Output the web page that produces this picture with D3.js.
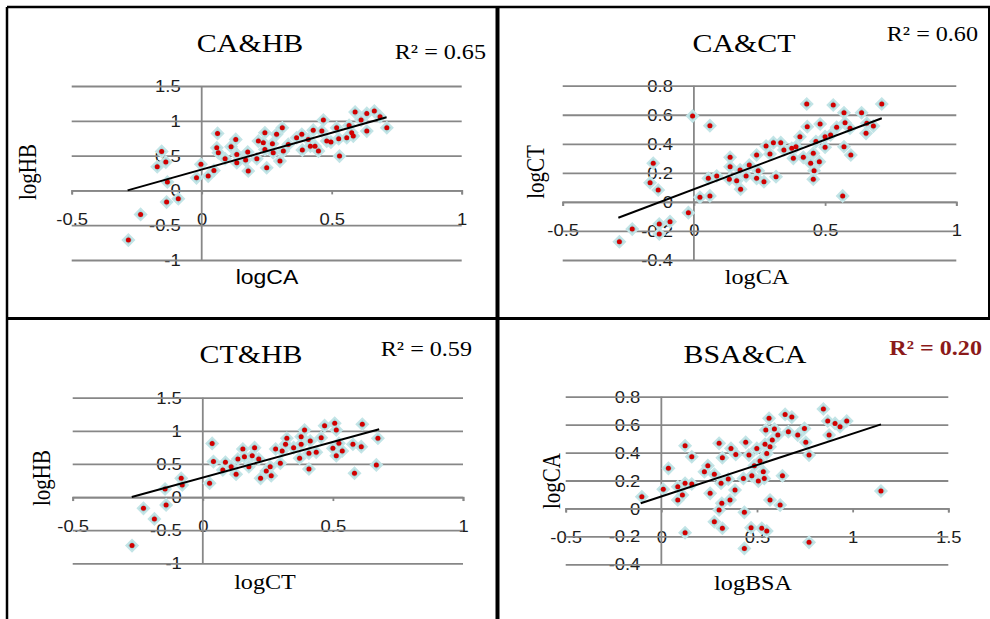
<!DOCTYPE html>
<html><head><meta charset="utf-8">
<script src="https://cdn.jsdelivr.net/npm/d3@7"></script>
<style>body{margin:0;background:#fff}svg{display:block}</style>
</head><body>
<script>
// ---------- data ----------
const caHB_x = [-0.282,-0.235,-0.171,-0.154,-0.138,-0.132,-0.135,-0.09,-0.003,-0.02,0.025,0.047,0.061,0.058,0.064,0.09,0.113,0.131,0.135,0.135,0.169,0.179,0.177,0.212,0.218,0.237,0.243,0.25,0.243,0.272,0.288,0.31,0.275,0.301,0.314,0.333,0.365,0.385,0.387,0.41,0.418,0.429,0.436,0.449,0.462,0.468,0.481,0.497,0.519,0.527,0.53,0.558,0.567,0.577,0.583,0.59,0.613,0.635,0.635,0.664,0.686,0.712];
const caHB_y = [-0.714,-0.345,0.34,0.56,0.407,0.12,-0.168,-0.12,0.374,0.18,0.206,0.287,0.819,0.613,0.541,0.455,0.628,0.733,0.517,0.397,0.436,0.278,0.55,0.455,0.708,0.685,0.589,0.326,0.829,0.671,0.805,0.9,0.541,0.421,0.565,0.661,0.757,0.805,0.579,0.733,0.636,0.866,0.636,0.565,0.852,1.01,0.708,0.694,0.9,0.743,0.493,0.757,0.934,0.829,0.78,1.125,1.01,1.106,0.852,1.14,1.059,0.9];

const caCT_x = [-0.284,-0.235,-0.167,-0.155,-0.136,-0.132,-0.132,-0.091,-0.021,-0.005,0.023,0.061,0.061,0.055,0.087,0.138,0.138,0.135,0.163,0.178,0.176,0.199,0.211,0.239,0.239,0.245,0.267,0.275,0.29,0.303,0.313,0.331,0.343,0.373,0.379,0.389,0.404,0.417,0.43,0.432,0.445,0.455,0.458,0.455,0.478,0.465,0.481,0.5,0.5,0.521,0.531,0.544,0.567,0.572,0.572,0.576,0.598,0.595,0.639,0.656,0.659,0.684,0.716];
const caCT_y = [-0.274,-0.187,0.132,0.266,0.082,-0.152,-0.221,-0.136,-0.074,0.591,0.032,0.525,0.041,0.162,0.178,0.307,0.242,0.156,0.146,0.087,0.22,0.178,0.254,0.162,0.323,0.215,0.139,0.385,0.33,0.408,0.174,0.408,0.357,0.369,0.3,0.38,0.449,0.307,0.674,0.518,0.266,0.335,0.215,0.156,0.277,0.415,0.536,0.376,0.449,0.461,0.667,0.514,0.041,0.614,0.38,0.545,0.323,0.507,0.614,0.472,0.541,0.522,0.674];

const ctHB_x = [-0.272,-0.228,-0.186,-0.141,-0.145,-0.083,-0.079,0.026,0.036,0.041,0.077,0.087,0.109,0.128,0.135,0.154,0.16,0.177,0.19,0.199,0.215,0.222,0.244,0.259,0.263,0.28,0.298,0.305,0.318,0.323,0.349,0.372,0.378,0.378,0.391,0.408,0.408,0.413,0.436,0.455,0.468,0.5,0.507,0.513,0.513,0.523,0.536,0.577,0.583,0.609,0.613,0.667,0.673];
const ctHB_y = [-0.733,-0.17,-0.33,-0.119,0.122,0.283,0.183,0.208,0.81,0.535,0.409,0.525,0.459,0.344,0.575,0.726,0.61,0.459,0.625,0.746,0.575,0.283,0.394,0.459,0.323,0.726,0.51,0.696,0.797,0.888,0.746,0.586,0.797,0.912,1.013,0.661,0.424,0.847,0.676,0.897,1.078,0.737,1.114,1.013,0.625,0.812,0.696,0.797,0.359,0.761,1.099,0.485,0.888];

const bsaCA_x = [-0.102,0.01,0.037,0.086,0.086,0.11,0.124,0.124,0.124,0.159,0.159,0.225,0.243,0.255,0.277,0.277,0.302,0.302,0.312,0.316,0.319,0.319,0.35,0.359,0.364,0.385,0.389,0.429,0.434,0.441,0.458,0.469,0.434,0.473,0.486,0.499,0.507,0.516,0.525,0.533,0.538,0.546,0.551,0.551,0.542,0.563,0.568,0.568,0.58,0.591,0.609,0.621,0.633,0.647,0.664,0.682,0.713,0.748,0.755,0.772,0.772,0.847,0.87,0.877,0.908,0.934,0.969,1.148];
const bsaCA_y = [0.084,0.137,0.287,0.155,0.06,0.096,0.449,0.18,-0.174,0.37,0.175,0.263,0.306,0.108,0.244,-0.095,0.466,-0.011,0.18,0.037,-0.142,0.363,0.21,0.06,0.43,0.132,0.387,0.215,-0.028,0.473,0.382,-0.138,-0.286,0.234,0.306,0.43,0.196,0.339,-0.142,0.263,0.215,0.561,-0.162,0.394,0.459,0.645,0.442,0.06,0.49,0.568,0.525,0.024,0.234,0.673,0.549,0.654,0.525,0.573,0.473,0.382,-0.243,0.712,0.626,0.525,0.609,0.585,0.626,0.125];

// trend lines (endpoints)
const caHB_trend_x = [-0.285, 0.711], caHB_trend_y = [0.0, 1.05];
const caCT_trend_x = [-0.288, 0.716], caCT_trend_y = [-0.109, 0.576];
const ctHB_trend_x = [-0.273, 0.678], ctHB_trend_y = [0.0, 1.023];
const bsaCA_trend_x = [-0.108, 1.148], bsaCA_trend_y = [0.037, 0.602];

// ticks
const ticksHB = [-1, -0.5, 0, 0.5, 1, 1.5];
const ticksCT = [-0.4, -0.2, 0, 0.2, 0.4, 0.6, 0.8];
const ticksX1 = [-0.5, 0, 0.5, 1];
const ticksX15 = [-0.5, 0, 0.5, 1, 1.5];

const titles = ["CA&HB", "CA&CT", "CT&HB", "BSA&CA"];
const r2Labels = ["R² = 0.65", "R² = 0.60", "R² = 0.59", "R² = 0.20"];
const xTitles = ["logCA", "logCA", "logCT", "logBSA"];
const yTitles = ["logHB", "logCT", "logHB", "logCA"];

// ---------- layout ----------
const W = 990, H = 619, SX = 1.15;
const SERIF = "'Liberation Serif','Times New Roman',serif";
const SANS = "'Liberation Sans',Arial,sans-serif";
const fmt = v => String(v);

const panels = [
  {xs: caHB_x, ys: caHB_y, tx: caHB_trend_x, ty: caHB_trend_y, xd: [-0.5, 1], yd: [-1, 1.5], xr: [71.7, 461.7], yr: [260, 86],
   xt: ticksX1, yt: ticksHB, title: [250, 43], r2: [486, 52], xT: [267, 277], yT: [28, 172], xFont: SANS, r2bold: false},
  {xs: caCT_x, ys: caCT_y, tx: caCT_trend_x, ty: caCT_trend_y, xd: [-0.5, 1], yd: [-0.4, 0.8], xr: [562.7, 956.3], yr: [260, 85.7],
   xt: ticksX1, yt: ticksCT, title: [744, 43], r2: [978, 34], xT: [757, 277], yT: [536, 172], xFont: SERIF, r2bold: false},
  {xs: ctHB_x, ys: ctHB_y, tx: ctHB_trend_x, ty: ctHB_trend_y, xd: [-0.5, 1], yd: [-1, 1.5], xr: [72.7, 463], yr: [563.3, 397.7],
   xt: ticksX1, yt: ticksHB, title: [251, 354], r2: [472, 349], xT: [265, 582], yT: [42, 478], xFont: SERIF, r2bold: false},
  {xs: bsaCA_x, ys: bsaCA_y, tx: bsaCA_trend_x, ty: bsaCA_trend_y, xd: [-0.5, 1.5], yd: [-0.4, 0.8], xr: [565.7, 948.3], yr: [564.3, 396.7],
   xt: ticksX15, yt: ticksCT, title: [745, 354], r2: [982, 348], xT: [753, 583], yT: [552, 481], xFont: SERIF, r2bold: true}
];

const svg = d3.select("body").append("svg").attr("width", W).attr("height", H);
svg.append("rect").attr("width", W).attr("height", H).attr("fill", "#fff");

function stretchedText(g, x, y, txt, font, size, opts = {}) {
  const t = g.append("text")
    .attr("transform", `translate(${x},${y}) scale(${SX},1)` + (opts.rotate ? " rotate(-90)" : ""))
    .attr("text-anchor", opts.anchor || "middle")
    .attr("dominant-baseline", "central")
    .attr("font-family", font).attr("font-size", size)
    .attr("fill", opts.fill || "#000")
    .text(txt);
  if (opts.bold) t.attr("font-weight", "bold");
  return t;
}

panels.forEach((p, i) => {
  const g = svg.append("g");
  const x = d3.scaleLinear().domain(p.xd).range(p.xr);
  const y = d3.scaleLinear().domain(p.yd).range(p.yr);
  const x0 = x(0), y0 = y(0);
  const gw = p.xr[1] - p.xr[0];

  // y tick labels (next to vertical zero axis)
  const ly = g.append("g").attr("transform", `translate(${x0},0)`)
    .call(d3.axisLeft(y).tickValues(p.yt).tickSize(0).tickPadding(0).tickFormat(fmt));
  ly.select(".domain").remove();
  ly.selectAll("text").attr("x", 0).attr("dy", null).attr("dominant-baseline", "central")
    .attr("transform", `translate(-21,0) scale(${SX},1)`)
    .attr("font-family", SANS).attr("font-size", 16).attr("fill", "#1c1c1c");

  // x tick labels
  const lx = g.append("g").attr("transform", `translate(0,${y0})`)
    .call(d3.axisBottom(x).tickValues(p.xt).tickSize(0).tickPadding(0).tickFormat(fmt));
  lx.select(".domain").remove();
  lx.selectAll("text").attr("y", 0).attr("dy", null).attr("dominant-baseline", "central")
    .attr("transform", `translate(0,29) scale(${SX},1)`)
    .attr("font-family", SANS).attr("font-size", 16).attr("fill", "#1c1c1c");

  // horizontal gridlines
  const grid = g.append("g").attr("transform", `translate(${p.xr[0]},0)`)
    .call(d3.axisRight(y).tickValues(p.yt).tickSize(gw).tickFormat(""));
  grid.select(".domain").remove();
  grid.selectAll("line").attr("stroke", "#878787").attr("stroke-width", 1.8);

  // vertical zero axis
  g.append("line").attr("x1", x0).attr("x2", x0).attr("y1", y(p.yd[1])).attr("y2", y(p.yd[0]))
    .attr("stroke", "#878787").attr("stroke-width", 1.8);

  // horizontal zero axis with tick marks
  const xa = g.append("g").attr("transform", `translate(0,${y0})`)
    .call(d3.axisBottom(x).tickValues(p.xt).tickSize(4).tickFormat(""));
  xa.select(".domain").attr("stroke", "#878787").attr("stroke-width", 1.8);
  xa.selectAll("line").attr("stroke", "#878787").attr("stroke-width", 1.8);

  // markers
  const pts = p.xs.map((v, k) => [v, p.ys[k]]);
  const sym = d3.symbol(d3.symbolSquare, 64);
  g.append("g").selectAll("path").data(pts).join("path")
    .attr("d", sym)
    .attr("transform", d => `translate(${x(d[0])},${y(d[1])}) rotate(45)`)
    .attr("fill", "#a3d3d7").attr("stroke", "#c2e4e6").attr("stroke-width", 2);
  g.append("g").selectAll("circle").data(pts).join("circle")
    .attr("cx", d => x(d[0])).attr("cy", d => y(d[1])).attr("r", 2.5)
    .attr("fill", "#d10000");

  // trend line
  const tl = p.tx.map((v, k) => [v, p.ty[k]]);
  g.append("path").datum(tl)
    .attr("d", d3.line().x(d => x(d[0])).y(d => y(d[1])))
    .attr("stroke", "#000").attr("stroke-width", 2).attr("fill", "none");

  // texts
  stretchedText(g, p.title[0], p.title[1], titles[i], SERIF, 26);
  stretchedText(g, p.r2[0], p.r2[1], r2Labels[i], SERIF, 21,
    {anchor: "end", bold: p.r2bold, fill: p.r2bold ? "#8b1a1a" : "#000"});
  stretchedText(g, p.xT[0], p.xT[1], xTitles[i], p.xFont, p.xFont === SANS ? 20 : 21);
  stretchedText(g, p.yT[0], p.yT[1], yTitles[i], SERIF, 21, {rotate: true});
});

// panel borders
const borders = [
  {x1: 7, y1: 7, x2: 990, y2: 7, w: 2.5},
  {x1: 7, y1: 7, x2: 7, y2: 619, w: 2.5},
  {x1: 497.5, y1: 7, x2: 497.5, y2: 619, w: 4},
  {x1: 7, y1: 318.5, x2: 990, y2: 318.5, w: 3},
  {x1: 989, y1: 7, x2: 989, y2: 318, w: 2}
];
svg.append("g").selectAll("line").data(borders).join("line")
  .attr("x1", d => d.x1).attr("y1", d => d.y1).attr("x2", d => d.x2).attr("y2", d => d.y2)
  .attr("stroke", "#000").attr("stroke-width", d => d.w);
</script>
</body></html>
